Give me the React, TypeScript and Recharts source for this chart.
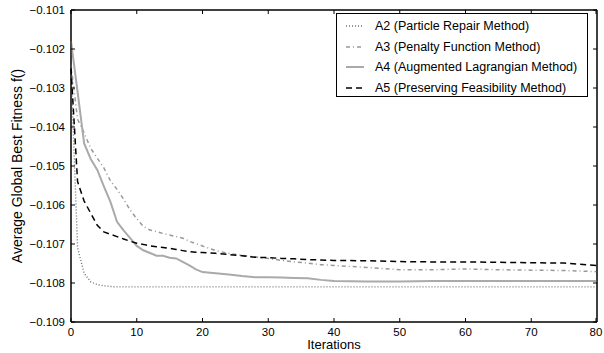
import React from 'react';
import { LineChart, Line, XAxis, YAxis, Legend, ReferenceArea } from 'recharts';

// Sampled iterations (dense at the start, sparser once the curves flatten)
const iterations = [
  0, 1, 2, 3, 4, 5, 6, 7, 8, 9, 10, 11, 12, 13, 14, 15, 16, 17, 18, 19, 20,
  22, 24, 26, 28, 30, 32, 34, 36, 38, 40, 45, 50, 55, 60, 65, 70, 75, 80,
];

const a2 = [
  -0.1025, -0.1071, -0.10775, -0.10797, -0.10804, -0.10807, -0.10809, -0.1081, -0.1081, -0.1081,
  -0.1081, -0.1081, -0.1081, -0.1081, -0.1081, -0.1081, -0.1081, -0.1081, -0.1081, -0.1081, -0.1081,
  -0.1081, -0.1081, -0.1081, -0.1081, -0.1081, -0.1081, -0.1081, -0.1081, -0.1081, -0.1081,
  -0.1081, -0.1081, -0.1081, -0.1081, -0.1081, -0.1081, -0.1081, -0.1081,
];

const a3 = [
  -0.1024, -0.1038, -0.10415, -0.10455, -0.1048, -0.10505, -0.10538, -0.1056, -0.10585, -0.10613,
  -0.10635, -0.10655, -0.10664, -0.10668, -0.10673, -0.10677, -0.10681, -0.10685, -0.10693, -0.10699, -0.10705,
  -0.10717, -0.10724, -0.10729, -0.10733, -0.10737, -0.10742, -0.10746, -0.10749, -0.10753, -0.10755,
  -0.1076, -0.10766, -0.10766, -0.10764, -0.10766, -0.10767, -0.10768, -0.10771,
];

const a4 = [
  -0.1018, -0.1031, -0.10442, -0.10482, -0.1051, -0.10552, -0.10592, -0.10643, -0.10665, -0.10685,
  -0.10705, -0.10716, -0.10723, -0.1073, -0.1073, -0.10735, -0.10737, -0.10746, -0.10755, -0.10765, -0.10772,
  -0.10775, -0.10778, -0.10782, -0.10785, -0.10785, -0.10786, -0.10787, -0.10788, -0.10792, -0.10795,
  -0.10796, -0.10796, -0.10795, -0.10795, -0.10795, -0.10795, -0.10795, -0.10795,
];

const a5 = [
  -0.1025, -0.1054, -0.1059, -0.10621, -0.10652, -0.10669, -0.10675, -0.10681, -0.10687, -0.10693,
  -0.10698, -0.10701, -0.10705, -0.10707, -0.10709, -0.10711, -0.10714, -0.10717, -0.1072, -0.10721, -0.10722,
  -0.10724, -0.10727, -0.1073, -0.10734, -0.10735, -0.10737, -0.10738, -0.1074, -0.10741, -0.10742,
  -0.10743, -0.10745, -0.10746, -0.10746, -0.10747, -0.10748, -0.10749, -0.10755,
];

const xTicks = [0, 10, 20, 30, 40, 50, 60, 70, 80];
const yTicks = [-0.109, -0.108, -0.107, -0.106, -0.105, -0.104, -0.103, -0.102, -0.101];

const data = iterations.map((it, i) => ({ iter: it, a2: a2[i], a3: a3[i], a4: a4[i], a5: a5[i] }));

const series = [
  { key: 'a2', name: 'A2 (Particle Repair Method)', color: '#707070', width: 1.4, dash: '1 2' },
  { key: 'a3', name: 'A3 (Penalty Function Method)', color: '#999999', width: 1.5, dash: '4 3 1 3' },
  { key: 'a4', name: 'A4 (Augmented Lagrangian Method)', color: '#aaaaaa', width: 2, dash: undefined },
  { key: 'a5', name: 'A5 (Preserving Feasibility Method)', color: '#000000', width: 1.5, dash: '6 4' },
];

const font = '"Liberation Sans", Arial, sans-serif';
const fmtY = (v: number) => '\u2212' + Math.abs(v).toFixed(3);

const BottomTick = ({ x, y, payload }: any) => (
  <g>
    <line x1={x} y1={y} x2={x} y2={y - 4} stroke="#000" />
    <text x={x} y={y + 5} dy="0.75em" textAnchor="middle" fontSize={11.5} fill="#000" fontFamily={font}>
      {payload.value}
    </text>
  </g>
);

const TopTick = ({ x, y }: any) => <line x1={x} y1={y} x2={x} y2={y + 4} stroke="#000" />;

const LeftTick = ({ x, y, payload }: any) => (
  <g>
    <line x1={x + 6} y1={y} x2={x + 10} y2={y} stroke="#000" />
    <text x={x} y={y} dy="0.35em" textAnchor="end" fontSize={11.5} fill="#000" fontFamily={font}>
      {fmtY(payload.value)}
    </text>
  </g>
);

const RightTick = ({ x, y }: any) => <line x1={x} y1={y} x2={x - 4} y2={y} stroke="#000" />;

const LegendBox = () => (
  <div
    style={{
      border: '1px solid #000',
      background: '#fff',
      width: 252,
      height: 84,
      boxSizing: 'border-box',
      padding: '2px 0 0 8px',
      fontFamily: font,
      fontSize: 12.5,
      color: '#000',
      whiteSpace: 'nowrap',
    }}
  >
    {series.map((s) => (
      <div key={s.key} style={{ display: 'flex', alignItems: 'center', height: 20.5 }}>
        <svg width={28} height={10} style={{ marginRight: 2, flexShrink: 0 }}>
          <line x1={1} y1={5} x2={19} y2={5} stroke={s.color} strokeWidth={s.width} strokeDasharray={s.dash} />
        </svg>
        <span>{s.name}</span>
      </div>
    ))}
  </div>
);

export default function App() {
  return (
    <div style={{ position: 'absolute', left: 0, top: 0 }}>
      <LineChart width={604} height={353} data={data} margin={{ top: 9, right: 6, bottom: 0, left: 0 }}>
        <XAxis
          xAxisId="bottom"
          dataKey="iter"
          type="number"
          domain={[0, 80]}
          ticks={xTicks}
          height={31}
          tickSize={0}
          tickMargin={0}
          stroke="#000"
          tick={<BottomTick />}
          label={{
            content: () => (
              <text x={334} y={349} textAnchor="middle" fontSize={13} fontFamily={font} fill="#000">
                Iterations
              </text>
            ),
          }}
        />
        <XAxis
          xAxisId="top"
          orientation="top"
          dataKey="iter"
          type="number"
          domain={[0, 80]}
          ticks={xTicks}
          height={1}
          tickSize={0}
          tickMargin={0}
          stroke="#000"
          tick={<TopTick />}
        />
        <YAxis
          yAxisId="left"
          type="number"
          domain={[-0.109, -0.101]}
          ticks={yTicks}
          allowDataOverflow
          width={71}
          tickSize={0}
          tickMargin={6}
          stroke="#000"
          tick={<LeftTick />}
          label={{
            content: () => (
              <text
                transform="translate(22,166) rotate(-90)"
                textAnchor="middle"
                fontSize={14}
                fontFamily={font}
                fill="#000"
              >
                Average Global Best Fitness f()
              </text>
            ),
          }}
        />
        <YAxis
          yAxisId="right"
          orientation="right"
          type="number"
          domain={[-0.109, -0.101]}
          ticks={yTicks}
          allowDataOverflow
          width={1}
          tickSize={0}
          tickMargin={0}
          stroke="#000"
          tick={<RightTick />}
        />
        {/* plot frame */}
        <ReferenceArea
          xAxisId="bottom"
          yAxisId="left"
          x1={0}
          x2={80}
          y1={-0.109}
          y2={-0.101}
          fill="none"
          stroke="#000"
          strokeWidth={1}
          fillOpacity={0}
          ifOverflow="visible"
        />
        <Legend
          layout="horizontal"
          verticalAlign="middle"
          align="center"
          content={<LegendBox />}
          wrapperStyle={{ position: 'absolute', left: 336, top: 13, width: 252, height: 84 }}
        />
        {/* invisible series so the top and right frame axes are drawn */}
        <Line
          xAxisId="top"
          yAxisId="right"
          dataKey="a4"
          stroke="none"
          dot={false}
          activeDot={false}
          legendType="none"
          isAnimationActive={false}
        />
        {series.map((s) => (
          <Line
            key={s.key}
            xAxisId="bottom"
            yAxisId="left"
            dataKey={s.key}
            name={s.name}
            type="linear"
            stroke={s.color}
            strokeWidth={s.width}
            strokeDasharray={s.dash}
            dot={false}
            activeDot={false}
            isAnimationActive={false}
          />
        ))}
      </LineChart>
    </div>
  );
}
